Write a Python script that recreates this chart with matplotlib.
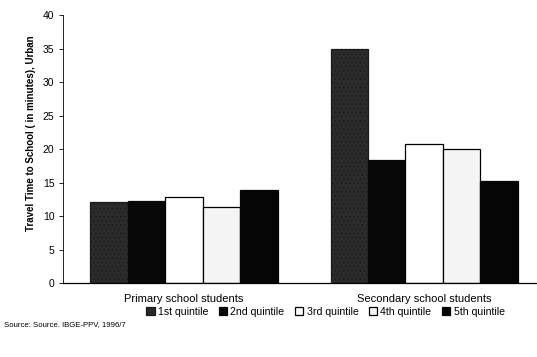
import matplotlib
matplotlib.use("Agg")
import matplotlib.pyplot as plt
import numpy as np

plt.rcParams['font.family'] = ['Liberation Sans', 'DejaVu Sans']
plt.rcParams['hatch.linewidth'] = 0.4

groups = ["Primary school students", "Secondary school students"]
quintiles = ["1st quintile", "2nd quintile", "3rd quintile", "4th quintile", "5th quintile"]
values = {
    "1st quintile": [12.1, 34.9],
    "2nd quintile": [12.3, 18.4],
    "3rd quintile": [12.9, 20.7],
    "4th quintile": [11.3, 20.0],
    "5th quintile": [13.9, 15.2],
}
yticks = [0, 5, 10, 15, 20, 25, 30, 35, 40]

styles = {
    "1st quintile": dict(facecolor="#2b2b2b", edgecolor="#1a1a1a", hatch="...."),
    "2nd quintile": dict(facecolor="#080808", edgecolor="#080808", hatch=None),
    "3rd quintile": dict(facecolor="white", edgecolor="black", hatch=None),
    "4th quintile": dict(facecolor="#f4f4f4", edgecolor="black", hatch=None),
    "5th quintile": dict(facecolor="#050505", edgecolor="#050505", hatch=None),
}

fig = plt.figure(figsize=(5.37, 3.57), dpi=100)
ax = fig.add_axes([0.117, 0.207, 0.883, 0.751])

x = np.arange(len(groups))
w = 0.156
for i, q in enumerate(quintiles):
    st = styles[q]
    ax.bar(x + (i - 2) * w, values[q], width=w, facecolor=st["facecolor"],
           edgecolor=st["edgecolor"], hatch=st["hatch"], linewidth=0.9, label=q)

ax.set_xlim(-0.505, 1.47)
ax.set_ylim(0, 40)
ax.set_yticks(yticks)
ax.tick_params(axis='y', labelsize=7.5, length=3, width=0.6, pad=3)
ax.set_xticks(x)
ax.set_xticklabels(groups, fontsize=8)
ax.tick_params(axis='x', length=0, pad=8)
for s in ["top", "right"]:
    ax.spines[s].set_visible(False)
ax.spines["left"].set_linewidth(0.6)
ax.spines["bottom"].set_linewidth(0.9)
ax.set_ylabel("Travel Time to School ( in minutes), Urban", fontsize=7,
              fontweight="bold")
ax.yaxis.set_label_coords(-0.056, 0.56)

fig.legend(loc="center", bbox_to_anchor=(0.606, 0.126), ncol=5, frameon=False,
           fontsize=7.6, handlelength=0.8, handleheight=0.8, handletextpad=0.3,
           columnspacing=1.0, borderpad=0)
fig.text(0.008, 0.088, "Source: Source. IBGE-PPV, 1996/7", fontsize=5.6)

fig.savefig("out.png", dpi=100)
